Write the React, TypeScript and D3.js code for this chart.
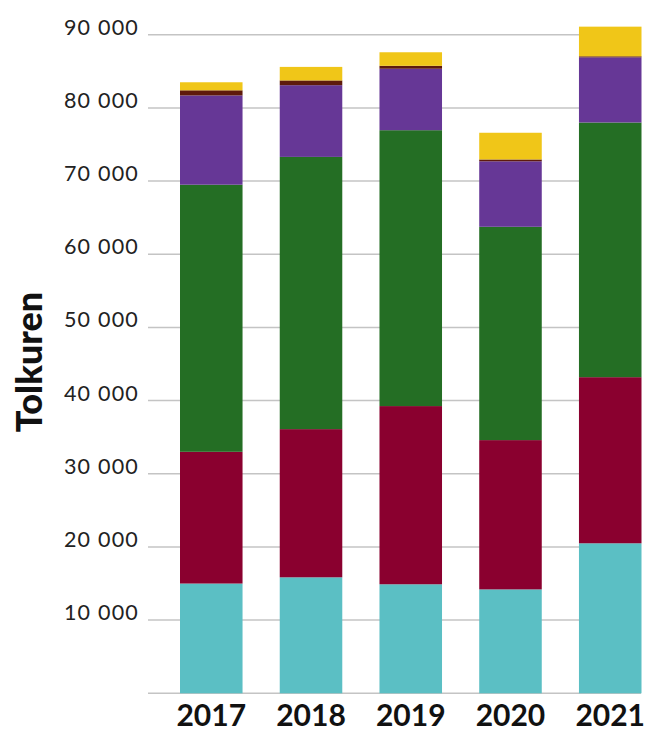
import React from "react";
import * as d3 from "d3";

const years = ["2017", "2018", "2019", "2020", "2021"];
const seriesKeys = ["s1", "s2", "s3", "s4", "s5", "s6"];
const seriesColors = ["#5bbfc4", "#8a002f", "#246e24", "#663796", "#5e1a0c", "#f0c618"];
const s1 = [15000, 15850, 14900, 14200, 20500];
const s2 = [18000, 20250, 24350, 20400, 22700];
const s3 = [36500, 37200, 37700, 29150, 34800];
const s4 = [12200, 9800, 8400, 8950, 8900];
const s5 = [700, 650, 400, 250, 150];
const s6 = [1100, 1850, 1850, 3650, 4050];
const tickValues = [0, 10000, 20000, 30000, 40000, 50000, 60000, 70000, 80000, 90000];
const yTitle = "Tolkuren";

export default function App() {
  const W = 648, H = 731;
  const seriesVals = [s1, s2, s3, s4, s5, s6];
  const rows = years.map((y, i) => {
    const r: any = { year: y };
    seriesKeys.forEach((k, j) => (r[k] = seriesVals[j][i]));
    return r;
  });
  const stacked = d3.stack().keys(seriesKeys)(rows);
  const x = d3.scaleBand().domain(years).range([180, 641.5]).paddingInner(0.373).paddingOuter(0);
  const y = d3.scaleLinear().domain([0, 90000]).range([693.3, 34.7]);
  const fmt = (v: number) => (v === 0 ? "" : d3.format(",")(v).replace(/,/g, " "));
  const font = "Lato, 'Open Sans', sans-serif";
  return (
    <svg width={W} height={H} style={{ position: "absolute", left: 0, top: 0, background: "#fff" }}>
      {tickValues.map((t) => (
        <g key={t}>
          <line x1={148} x2={641} y1={y(t)} y2={y(t)} stroke="#c4c4c4" strokeWidth={1.5} />
          <text x={139} y={y(t)} textAnchor="end" fontFamily={font} fontSize={21.5} fill="#222" letterSpacing={1.2}>
            {fmt(t)}
          </text>
        </g>
      ))}
      {stacked.map((s, j) => (
        <g key={s.key} fill={seriesColors[j]}>
          {s.map((d, i) => (
            <rect
              key={i}
              x={x(years[i])}
              width={x.bandwidth()}
              y={y(d[1])}
              height={Math.max(0, y(d[0]) - y(d[1]))}
            />
          ))}
        </g>
      ))}
      {years.map((yr) => (
        <text
          key={yr}
          x={(x(yr) as number) + x.bandwidth() / 2}
          y={726}
          textAnchor="middle"
          fontFamily={font}
          fontWeight={700}
          fontSize={30}
          fill="#111"
        >
          {yr}
        </text>
      ))}
      <text
        transform={`translate(42,362) rotate(-90)`}
        textAnchor="middle"
        fontFamily={font}
        fontWeight={900}
        fontSize={36}
        fill="#111"
      >
        {yTitle}
      </text>
    </svg>
  );
}
